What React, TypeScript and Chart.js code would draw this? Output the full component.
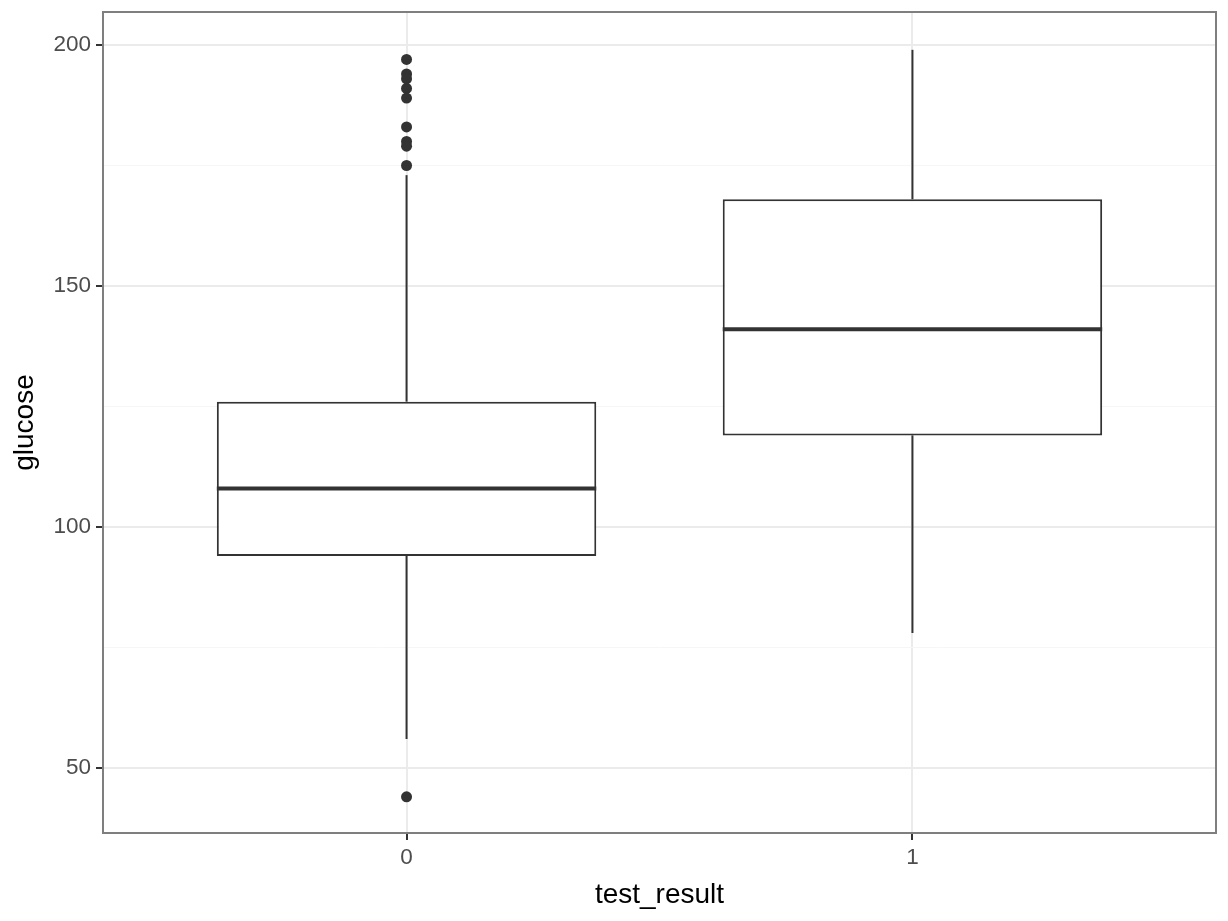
import React, { useEffect, useRef } from "react";
import { Chart, registerables } from "chart.js";

Chart.register(...registerables);

// ---- data ----
const categories = ["0", "1"];
const whiskerLow = [56, 78];
const q1 = [94, 119];
const median = [108, 141];
const q3 = [126, 168];
const whiskerHigh = [173, 199];
const outliers0 = [197, 194, 193, 191, 189, 183, 180, 179, 175, 44];
const outliers1: number[] = [];
const outliersByGroup = [outliers0, outliers1];
const yMajorTicks = [50, 100, 150, 200];
const yMinorTicks = [75, 125, 175];

// ---- style constants ----
const BOX_WIDTH = 0.75;
const X_MIN = -0.6;
const X_MAX = 1.6;
const Y_MIN = 36.5;
const Y_MAX = 206.85;
const INK = "#333333";
const FONT = "'Liberation Sans', Arial, Helvetica, sans-serif";

const panelBorder = {
  id: "panelBorder",
  afterDraw(chart: any) {
    const { ctx, chartArea } = chart;
    ctx.save();
    ctx.strokeStyle = "#7f7f7f";
    ctx.lineWidth = 2;
    ctx.strokeRect(chartArea.left, chartArea.top, chartArea.right - chartArea.left, chartArea.bottom - chartArea.top);
    ctx.restore();
  },
};

export default function App() {
  const ref = useRef<HTMLCanvasElement | null>(null);

  useEffect(() => {
    if (!ref.current) return;
    const datasets: any[] = [];

    // medians
    categories.forEach((_, i) => {
      datasets.push({
        type: "line",
        data: [
          { x: i - BOX_WIDTH / 2, y: median[i] },
          { x: i + BOX_WIDTH / 2, y: median[i] },
        ],
        borderColor: INK,
        borderWidth: 4,
        pointRadius: 0,
        borderCapStyle: "butt",
        order: 0,
      });
    });

    // outliers
    datasets.push({
      type: "scatter",
      data: outliersByGroup.flatMap((arr, i) => arr.map((v) => ({ x: i, y: v }))),
      backgroundColor: INK,
      borderColor: INK,
      pointRadius: 5.5,
      borderWidth: 0,
      order: 1,
    });

    // whiskers
    categories.forEach((_, i) => {
      datasets.push({
        type: "line",
        data: [
          { x: i, y: whiskerLow[i] },
          { x: i, y: q1[i] },
        ],
        borderColor: INK,
        borderWidth: 2,
        pointRadius: 0,
        order: 2,
      });
      datasets.push({
        type: "line",
        data: [
          { x: i, y: q3[i] },
          { x: i, y: whiskerHigh[i] },
        ],
        borderColor: INK,
        borderWidth: 2,
        pointRadius: 0,
        order: 2,
      });
    });

    // boxes
    datasets.push({
      type: "bar",
      data: categories.map((_, i) => ({ x: i, y: [q1[i], q3[i]] })),
      backgroundColor: "#ffffff",
      borderColor: INK,
      borderWidth: 2,
      borderSkipped: false,
      categoryPercentage: 1,
      barPercentage: BOX_WIDTH,
      order: 3,
    });

    const chart = new Chart(ref.current, {
      type: "scatter",
      data: { datasets },
      options: {
        animation: false,
        responsive: false,
        maintainAspectRatio: false,
        layout: { padding: { top: 12, right: 12, left: 0, bottom: 0 } },
        plugins: { legend: { display: false }, tooltip: { enabled: false } },
        scales: {
          x: {
            type: "linear",
            min: X_MIN,
            max: X_MAX,
            offset: false,
            afterBuildTicks: (scale: any) => {
              scale.ticks = categories.map((_, i) => ({ value: i }));
            },
            afterFit: (scale: any) => {
              scale.height = 88;
              scale.paddingLeft = 0;
              scale.paddingRight = 0;
            },
            ticks: {
              callback: (v: any) => categories[Number(v)] ?? "",
              color: "#4d4d4d",
              font: { family: FONT, size: 22.5 },
              padding: 4,
              maxRotation: 0,
              autoSkip: false,
            },
            grid: {
              offset: false,
              color: "#ebebeb",
              lineWidth: 2,
              tickColor: INK,
              tickLength: 7,
              tickWidth: 2,
            },
            border: { display: false },
            title: {
              display: true,
              text: "test_result",
              color: "#000000",
              font: { family: FONT, size: 28 },
              padding: { top: 0, bottom: 9 },
            },
          },
          y: {
            type: "linear",
            min: Y_MIN,
            max: Y_MAX,
            afterBuildTicks: (scale: any) => {
              scale.ticks = [...yMajorTicks, ...yMinorTicks].sort((a, b) => a - b).map((v) => ({ value: v }));
            },
            afterFit: (scale: any) => {
              scale.width = 103;
              scale.paddingTop = 0;
              scale.paddingBottom = 0;
            },
            ticks: {
              callback: (v: any) => (yMajorTicks.includes(Number(v)) ? String(v) : ""),
              color: "#4d4d4d",
              font: { family: FONT, size: 22.5 },
              padding: 5,
              autoSkip: false,
            },
            grid: {
              color: (c: any) => (yMajorTicks.includes(c.tick?.value) ? "#ebebeb" : "#f6f6f6"),
              lineWidth: (c: any) => (yMajorTicks.includes(c.tick?.value) ? 2 : 1),
              tickColor: (c: any) => (yMajorTicks.includes(c.tick?.value) ? INK : "rgba(0,0,0,0)"),
              tickLength: 7,
              tickWidth: 2,
            },
            border: { display: false },
            title: {
              display: true,
              text: "glucose",
              color: "#000000",
              font: { family: FONT, size: 28 },
              padding: { top: 8, bottom: 0 },
            },
          },
        },
      },
      plugins: [panelBorder],
    } as any);

    return () => chart.destroy();
  }, []);

  return (
    <div style={{ position: "fixed", left: 0, top: 0, width: 1228, height: 921, background: "#ffffff" }}>
      <canvas ref={ref} width={1228} height={921} style={{ display: "block" }} />
    </div>
  );
}
